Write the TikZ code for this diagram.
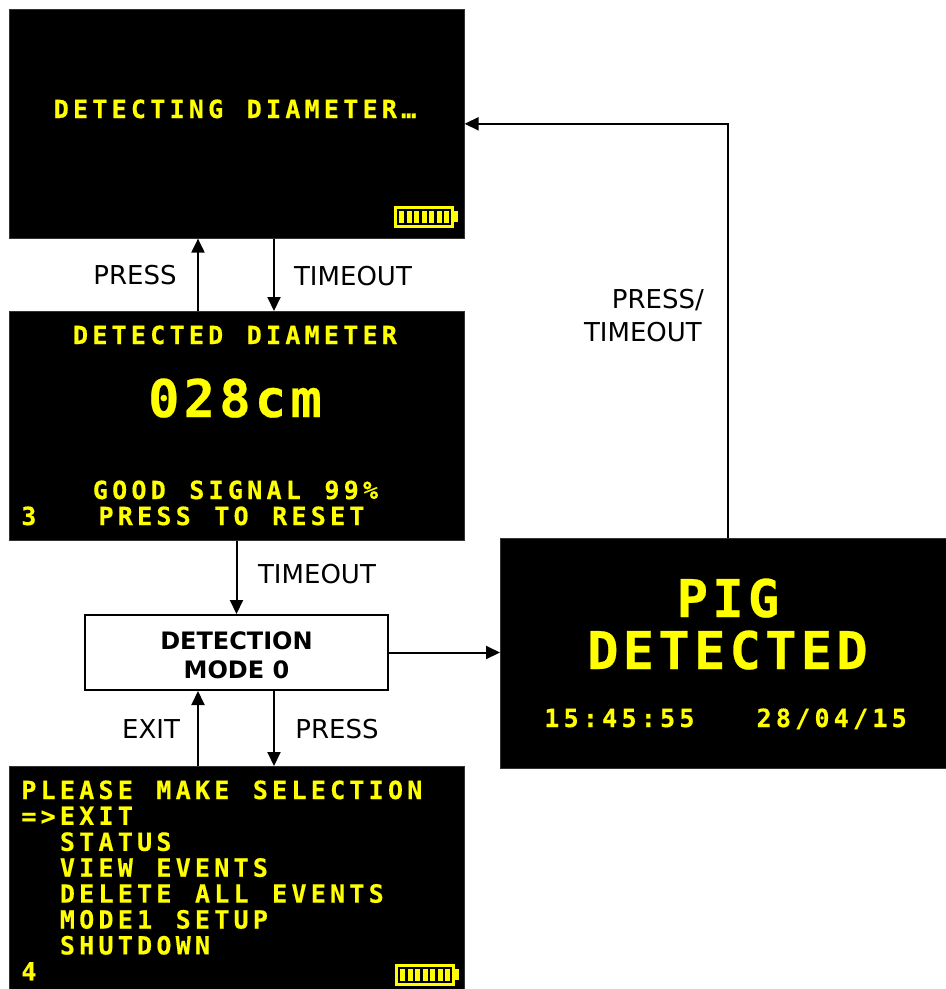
\documentclass[tikz,border=0pt]{standalone}
\usepackage{fontspec}
\setmainfont{DejaVu Sans}
\newfontfamily\scrfont[BoldFeatures={FakeBold=0.5}]{DejaVu Sans Mono}
\usetikzlibrary{arrows.meta}
\definecolor{lcd}{RGB}{255,255,0}
\ExplSyntaxOn
\NewDocumentCommand\monotext{O{19.3pt}m}{\str_map_inline:nn {#2} {\makebox[#1][c]{##1}}}
\ExplSyntaxOff
\newcommand\lcdS[1]{\monotext[19.3pt]{#1}}
\newcommand\lcdL[1]{\monotext[35.6pt]{#1}}
\tikzset{
  screen/.style={fill=black, draw=black!80, line width=0.6pt, anchor=north west, inner sep=0pt},
  lcds/.style={text=lcd, inner sep=0pt, anchor=base, font={\fontsize{25}{26}\scrfont\bfseries}},
  lcdl/.style={text=lcd, inner sep=0pt, anchor=base, font={\fontsize{52}{56}\scrfont\bfseries}},
  menuline/.style={lcds, anchor=base west},
  lbl/.style={inner sep=0pt, anchor=base, font=\fontsize{26}{30}\selectfont},
  modebox/.style={draw=black, line width=2pt, fill=white, minimum width=303pt, minimum height=75pt, inner sep=0pt, align=center, font={\fontsize{24}{29}\selectfont\bfseries}},
  arr/.style={line width=2pt, -{Triangle[length=14pt,width=13pt]}},
  battery/.pic={
    \fill[lcd] (0,0) rectangle (60,22);
    \fill[lcd] (59,5) rectangle (64,16);
    \fill[black] (3,3) rectangle (57,19);
    \foreach \i in {0,...,6} {
      \fill[lcd] ({5+\i*7.5},5) rectangle ({10+\i*7.5},17);
    }
  }
}
\begin{document}
\begin{tikzpicture}[x=1pt,y=-1pt]
\useasboundingbox (0,0) rectangle (946,989);
% screens
\node[screen, minimum width=455pt, minimum height=229pt] (s1) at (9,9) {};
\node[screen, minimum width=455pt, minimum height=229pt] (s2) at (9,311) {};
\node[screen, minimum width=455pt, minimum height=224pt] (menu) at (9,766) {};
\node[screen, minimum width=447pt, minimum height=230pt] (pig) at (500,538) {};
\node[modebox] (mode) at (236.5,652.5) {\rule{0pt}{24pt}DETECTION\\MODE 0};
% screen 1
\node[lcds] (t1) at (235,118) {\lcdS{DETECTING DIAMETER…}};
\pic at (394,206) {battery};
% screen 2
\node[lcds] (t2a) at (235,344) {\lcdS{DETECTED DIAMETER}};
\node[lcdl] (t2b) at (235,417) {\lcdL{028cm}};
\node[lcds] (t2c) at (235.5,499) {\lcdS{GOOD SIGNAL 99}\makebox[19.3pt][c]{\%}};
\node[lcds, anchor=base west] (t2d) at (19,525) {\lcdS{3}};
\node[lcds, anchor=base west] (t2e) at (96.2,525) {\lcdS{PRESS TO RESET}};
% menu
\node[menuline] (m1) at (19,799) {\lcdS{PLEASE MAKE SELECTION}};
\node[menuline] (m2) at (19,824.9) {\lcdS{=>EXIT}};
\node[menuline] (m3) at (57.6,850.8) {\lcdS{STATUS}};
\node[menuline] (m4) at (57.6,876.7) {\lcdS{VIEW EVENTS}};
\node[menuline] (m5) at (57.6,902.6) {\lcdS{DELETE ALL EVENTS}};
\node[menuline] (m6) at (57.6,928.5) {\lcdS{MODE1 SETUP}};
\node[menuline] (m7) at (57.6,954.4) {\lcdS{SHUTDOWN}};
\node[menuline] (m8) at (19,980.3) {\lcdS{4}};
\pic at (395,964) {battery};
% pig screen
\node[lcdl] (p1) at (728,617) {\lcdL{PIG}};
\node[lcdl] (p2) at (727.5,669) {\lcdL{DETECTED}};
\node[lcds, anchor=base west] (p3) at (542,727) {\lcdS{15:45:55}};
\node[lcds, anchor=base west] (p4) at (754.3,727) {\lcdS{28/04/15}};
% connectors
\draw[arr] (s2.north -| 198,0) -- (s1.south -| 198,0);
\draw[arr] (s1.south -| 274,0) -- (s2.north -| 274,0);
\draw[arr] (s2.south -| mode.north) -- (mode.north);
\draw[arr] (menu.north -| 198,0) -- (mode.south -| 198,0);
\draw[arr] (mode.south -| 274,0) -- (menu.north -| 274,0);
\draw[arr] (mode.east) -- (mode.east -| pig.west);
\draw[arr] (pig.north -| 728,0) |- (s1.east);
% labels
\node[lbl] (l1) at (135,284) {PRESS};
\node[lbl] (l2) at (353,285) {TIMEOUT};
\node[lbl] (l3) at (317,583) {TIMEOUT};
\node[lbl] (l4) at (151,738) {EXIT};
\node[lbl] (l5) at (337,738) {PRESS};
\node[lbl, anchor=base east] (l6) at (704,308) {PRESS/};
\node[lbl, anchor=base east] (l7) at (702,341) {TIMEOUT};
\end{tikzpicture}
\end{document}
